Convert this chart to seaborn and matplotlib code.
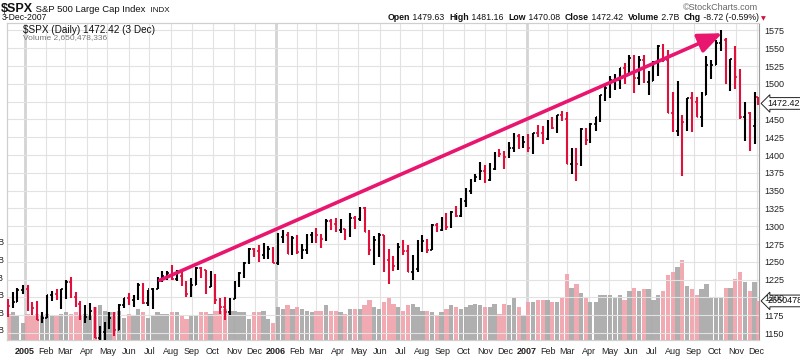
import matplotlib
matplotlib.use("Agg")
import matplotlib.pyplot as plt
import matplotlib.dates as mdates
import pandas as pd
import seaborn as sns

week_end = [
    "2004-12-10", "2004-12-17", "2004-12-23", "2004-12-31",
    "2005-01-07", "2005-01-14", "2005-01-21", "2005-01-28",
    "2005-02-04", "2005-02-11", "2005-02-18", "2005-02-25",
    "2005-03-04", "2005-03-11", "2005-03-18", "2005-03-24",
    "2005-04-01", "2005-04-08", "2005-04-15", "2005-04-22", "2005-04-29",
    "2005-05-06", "2005-05-13", "2005-05-20", "2005-05-27",
    "2005-06-03", "2005-06-10", "2005-06-17", "2005-06-24",
    "2005-07-01", "2005-07-08", "2005-07-15", "2005-07-22", "2005-07-29",
    "2005-08-05", "2005-08-12", "2005-08-19", "2005-08-26",
    "2005-09-02", "2005-09-09", "2005-09-16", "2005-09-23", "2005-09-30",
    "2005-10-07", "2005-10-14", "2005-10-21", "2005-10-28",
    "2005-11-04", "2005-11-11", "2005-11-18", "2005-11-25",
    "2005-12-02", "2005-12-09", "2005-12-16", "2005-12-23", "2005-12-30",
    "2006-01-06", "2006-01-13", "2006-01-20", "2006-01-27",
    "2006-02-03", "2006-02-10", "2006-02-17", "2006-02-24",
    "2006-03-03", "2006-03-10", "2006-03-17", "2006-03-24", "2006-03-31",
    "2006-04-07", "2006-04-13", "2006-04-21", "2006-04-28",
    "2006-05-05", "2006-05-12", "2006-05-19", "2006-05-26",
    "2006-06-02", "2006-06-09", "2006-06-16", "2006-06-23", "2006-06-30",
    "2006-07-07", "2006-07-14", "2006-07-21", "2006-07-28",
    "2006-08-04", "2006-08-11", "2006-08-18", "2006-08-25",
    "2006-09-01", "2006-09-08", "2006-09-15", "2006-09-22", "2006-09-29",
    "2006-10-06", "2006-10-13", "2006-10-20", "2006-10-27",
    "2006-11-03", "2006-11-10", "2006-11-17", "2006-11-24",
    "2006-12-01", "2006-12-08", "2006-12-15", "2006-12-22", "2006-12-29",
    "2007-01-05", "2007-01-12", "2007-01-19", "2007-01-26",
    "2007-02-02", "2007-02-09", "2007-02-16", "2007-02-23",
    "2007-03-02", "2007-03-09", "2007-03-16", "2007-03-23", "2007-03-30",
    "2007-04-05", "2007-04-13", "2007-04-20", "2007-04-27",
    "2007-05-04", "2007-05-11", "2007-05-18", "2007-05-25",
    "2007-06-01", "2007-06-08", "2007-06-15", "2007-06-22", "2007-06-29",
    "2007-07-06", "2007-07-13", "2007-07-20", "2007-07-27",
    "2007-08-03", "2007-08-10", "2007-08-17", "2007-08-24", "2007-08-31",
    "2007-09-07", "2007-09-14", "2007-09-21", "2007-09-28",
    "2007-10-05", "2007-10-12", "2007-10-19", "2007-10-26",
    "2007-11-02", "2007-11-09", "2007-11-16", "2007-11-23", "2007-11-30",
    "2007-12-03",
]
high = [
    1197.5, 1207.0, 1213.7, 1217.9,
    1217.8, 1193.2, 1195.3, 1179.4,
    1203.5, 1208.4, 1212.4, 1211.9,
    1224.8, 1229.1, 1207.1, 1194.8,
    1189.8, 1191.9, 1187.0, 1159.8, 1164.8,
    1178.9, 1178.9, 1191.1, 1198.8,
    1205.6, 1203.2, 1219.6, 1219.6,
    1210.9, 1212.7, 1229.2, 1236.6, 1237.8,
    1245.9, 1238.4, 1236.5, 1223.7,
    1227.6, 1243.1, 1242.6, 1237.9, 1237.8,
    1233.3, 1199.7, 1201.1, 1199.1,
    1222.5, 1235.7, 1249.6, 1268.8,
    1269.0, 1273.4, 1275.8, 1272.4, 1270.5,
    1290.8, 1294.9, 1291.9, 1286.4,
    1287.0, 1274.6, 1289.4, 1292.1,
    1297.6, 1289.0, 1310.8, 1310.3, 1310.9,
    1310.3, 1295.5, 1318.2, 1314.7,
    1326.7, 1326.6, 1294.8, 1285.6,
    1290.7, 1288.2, 1267.7, 1258.6, 1276.3,
    1280.4, 1273.3, 1260.2, 1280.2,
    1287.8, 1281.6, 1303.2, 1305.2,
    1312.7, 1318.0, 1322.0, 1328.5, 1340.3,
    1353.8, 1366.1, 1372.9, 1389.5,
    1386.6, 1388.1, 1403.8, 1407.9,
    1406.0, 1418.3, 1431.6, 1429.4, 1427.3,
    1429.4, 1431.2, 1441.6, 1440.7,
    1449.3, 1452.9, 1456.2, 1461.6,
    1459.8, 1410.2, 1410.1, 1437.7, 1438.1,
    1444.9, 1453.1, 1484.7, 1498.0,
    1510.3, 1513.8, 1522.8, 1529.4,
    1540.6, 1540.0, 1538.7, 1541.0, 1517.5,
    1531.9, 1555.1, 1555.9, 1548.0,
    1488.3, 1503.9, 1456.7, 1479.4, 1488.1,
    1481.5, 1488.0, 1538.7, 1533.7,
    1561.9, 1576.1, 1564.7, 1535.3,
    1552.8, 1520.5, 1474.1, 1461.0, 1488.9,
    1481.16,
]
low = [
    1173.1, 1185.3, 1193.0, 1204.9,
    1180.3, 1175.6, 1167.8, 1163.8,
    1171.4, 1194.6, 1196.0, 1184.2,
    1198.1, 1198.9, 1186.6, 1168.7,
    1163.7, 1168.2, 1142.6, 1136.2, 1139.9,
    1155.2, 1146.2, 1154.0, 1185.3,
    1188.7, 1187.0, 1196.9, 1190.5,
    1188.2, 1183.6, 1211.3, 1221.1, 1224.9,
    1224.5, 1223.0, 1216.0, 1201.1,
    1201.1, 1218.0, 1227.5, 1205.4, 1214.6,
    1191.2, 1176.3, 1168.2, 1175.4,
    1197.4, 1214.7, 1227.3, 1246.6,
    1256.3, 1250.0, 1253.9, 1254.6, 1248.3,
    1245.7, 1277.1, 1261.0, 1259.4,
    1261.0, 1253.6, 1261.0, 1276.9,
    1276.4, 1269.8, 1279.3, 1295.3, 1291.8,
    1291.1, 1280.7, 1284.4, 1296.0,
    1308.0, 1291.2, 1259.6, 1245.3,
    1256.3, 1235.2, 1219.3, 1236.7, 1238.6,
    1260.0, 1236.2, 1224.5, 1236.4,
    1263.5, 1261.8, 1266.7, 1292.0,
    1292.9, 1294.9, 1297.0, 1312.7, 1313.4,
    1326.9, 1345.0, 1362.0, 1364.6,
    1360.6, 1363.8, 1378.4, 1397.4,
    1379.7, 1395.7, 1403.9, 1408.9, 1410.5,
    1403.9, 1401.4, 1425.7, 1416.0,
    1420.5, 1436.1, 1431.1, 1448.1,
    1386.9, 1373.0, 1364.0, 1384.4, 1413.9,
    1416.4, 1433.8, 1446.6, 1475.3,
    1480.5, 1491.4, 1493.1, 1500.2,
    1513.2, 1487.6, 1498.6, 1500.8, 1484.2,
    1503.4, 1510.5, 1530.6, 1459.0,
    1432.8, 1427.4, 1370.6, 1433.8, 1432.0,
    1453.5, 1439.3, 1484.2, 1507.1,
    1526.8, 1546.7, 1500.3, 1489.6,
    1492.5, 1450.0, 1420.2, 1406.1, 1415.6,
    1470.08,
]
close = [
    1188.0, 1194.2, 1210.1, 1211.9,
    1186.2, 1184.5, 1167.9, 1171.4,
    1203.0, 1205.3, 1201.6, 1211.4,
    1222.1, 1200.1, 1190.2, 1171.4,
    1172.9, 1181.2, 1142.6, 1152.1, 1156.9,
    1171.4, 1154.1, 1189.3, 1198.8,
    1196.0, 1198.1, 1217.0, 1191.6,
    1211.9, 1211.9, 1227.9, 1229.4, 1234.2,
    1226.4, 1230.4, 1219.7, 1205.1,
    1218.0, 1241.5, 1237.9, 1215.3, 1228.8,
    1195.9, 1186.6, 1179.6, 1198.4,
    1220.1, 1234.7, 1248.3, 1268.2,
    1265.1, 1259.4, 1267.3, 1268.7, 1248.3,
    1285.5, 1287.6, 1261.5, 1283.7,
    1264.0, 1266.9, 1287.2, 1289.4,
    1287.2, 1281.4, 1307.3, 1302.9, 1294.8,
    1295.5, 1289.1, 1311.3, 1310.6,
    1325.8, 1291.2, 1267.0, 1280.2,
    1288.2, 1252.3, 1251.5, 1244.5, 1270.2,
    1265.5, 1236.2, 1240.3, 1278.6,
    1279.4, 1266.7, 1302.3, 1295.1,
    1311.0, 1298.9, 1319.7, 1314.8, 1335.9,
    1349.6, 1365.6, 1368.6, 1377.3,
    1364.3, 1380.9, 1401.2, 1401.0,
    1396.7, 1409.8, 1427.1, 1410.8, 1418.3,
    1409.7, 1430.7, 1430.5, 1422.2,
    1448.4, 1438.1, 1455.5, 1451.2,
    1387.2, 1402.8, 1387.0, 1436.1, 1420.9,
    1443.8, 1452.9, 1484.4, 1494.1,
    1505.6, 1505.9, 1522.8, 1515.7,
    1536.3, 1507.7, 1532.9, 1502.6, 1503.4,
    1530.4, 1552.5, 1534.1, 1459.0,
    1433.1, 1453.6, 1445.9, 1479.4, 1474.0,
    1453.6, 1484.3, 1525.8, 1526.8,
    1557.6, 1561.8, 1500.6, 1535.3,
    1509.7, 1453.7, 1458.7, 1440.7, 1481.1,
    1472.42,
]
# average daily volume, billions of shares
volume_b = [
    1.9, 2.0, 1.8, 1.4,
    1.9, 1.8, 1.9, 1.8,
    1.9, 1.8, 1.8, 1.9,
    2.0, 1.9, 2.0, 1.8,
    1.9, 1.8, 2.3, 2.4, 2.1,
    2.0, 2.0, 2.1, 1.7,
    1.9, 1.8, 2.2, 2.0,
    1.7, 1.8, 2.0, 1.9, 1.9,
    2.0, 2.0, 1.8, 1.6,
    1.8, 1.8, 2.0, 2.0, 1.9,
    2.1, 2.1, 2.2, 2.1,
    2.1, 2.0, 2.0, 1.6,
    2.0, 2.0, 2.1, 1.6, 1.4,
    2.3, 2.2, 2.4, 2.2,
    2.3, 2.2, 2.1, 2.0,
    2.1, 2.1, 2.4, 2.1, 2.1,
    2.0, 1.9, 2.2, 2.2,
    2.2, 2.4, 2.7, 2.3,
    2.2, 2.6, 2.8, 2.5, 2.3,
    2.1, 2.4, 2.5, 2.3,
    2.1, 2.1, 2.0, 1.8,
    2.0, 2.2, 2.4, 2.3, 2.2,
    2.3, 2.4, 2.5, 2.4,
    2.3, 2.3, 2.5, 1.9,
    2.5, 2.4, 2.8, 2.3, 1.8,
    2.6, 2.6, 2.7, 2.7,
    2.7, 2.6, 2.6, 2.8,
    4.2, 3.4, 3.6, 3.1, 2.8,
    2.6, 2.6, 3.0, 3.0,
    3.0, 2.9, 3.0, 2.7,
    3.2, 3.4, 3.2, 3.3, 3.3,
    2.7, 3.0, 3.2, 4.1,
    4.3, 4.6, 5.0, 3.5, 3.3,
    3.0, 3.3, 3.6, 2.8,
    2.9, 2.9, 3.4, 3.4,
    3.9, 4.3, 3.7, 3.2, 3.7,
    2.65,
]
first_open = 1191.2

price_ticks = [1150, 1175, 1200, 1225, 1250, 1275, 1300, 1325, 1350, 1375,
               1400, 1425, 1450, 1475, 1500, 1525, 1550, 1575]
volume_ticks = [1, 2, 3, 4, 5, 6]
month_abbr = ["Jan", "Feb", "Mar", "Apr", "May", "Jun",
              "Jul", "Aug", "Sep", "Oct", "Nov", "Dec"]

# trend arrow drawn on the chart
arrow_start = ("2005-07-16", 1224)
arrow_end = ("2007-10-12", 1571)

last_close = 1472.42
last_volume = "2650478336"

UP, DOWN = "#000000", "#e0103c"
VOL_UP, VOL_DOWN = "#a6a6a6", "#f0a0aa"
PINK = "#e8166f"
GRID = "#e2e2e2"

sns.set_theme(style="white")
plt.rcParams["font.family"] = ["Liberation Sans", "DejaVu Sans"]

fig = plt.figure(figsize=(8, 3.63), dpi=100)
fig.patch.set_facecolor("white")
ax = fig.add_axes([7 / 800, 23 / 363, 752 / 800, 317 / 363])
ax_p = ax.twinx()

dates = pd.to_datetime(week_end)
# centre each weekly bar in the middle of its trading week
mid = [d - pd.Timedelta(days=min(2, d.weekday())) for d in dates]
xs = mdates.date2num(mid)
opens = [first_open] + close[:-1]
up = [c >= o for c, o in zip(close, opens)]
colors = [UP if u else DOWN for u in up]
vcolors = [VOL_UP if u else VOL_DOWN for u in up]

# volume (back layer)
ax.bar(xs, volume_b, width=6.2, color=vcolors, alpha=0.9, linewidth=0, zorder=2)
ax.set_ylim(0.43, 18.44)
ax.set_yticks(volume_ticks)
ax.set_yticklabels([f"{v}B" for v in volume_ticks])
ax.tick_params(axis="y", left=True, length=0, pad=2, labelsize=6.5, labelcolor="#222222")

# price OHLC bars
ax_p.vlines(xs, low, high, colors=colors, lw=1.5, zorder=3)
ax_p.hlines(opens, xs - 2.2, xs, colors=colors, lw=1.2, zorder=3)
ax_p.hlines(close, xs, xs + 2.2, colors=colors, lw=1.2, zorder=3)
ax_p.set_ylim(1140.2, 1585.4)
ax_p.set_yticks(price_ticks)
ax_p.tick_params(axis="y", right=True, length=0, pad=4, labelsize=6.5, labelcolor="#222222")
ax_p.grid(axis="y", color=GRID, lw=0.8, zorder=0)
ax_p.set_axisbelow(True)

# month axis
month_starts = pd.date_range("2005-01-01", "2007-12-01", freq="MS")
ax.set_xlim(mdates.date2num(pd.Timestamp("2004-12-06")),
            mdates.date2num(pd.Timestamp("2007-12-04 12:00")))
ax.set_xticks(mdates.date2num(month_starts))
ax.set_xticklabels([str(m.year) if m.month == 1 else month_abbr[m.month - 1]
                    for m in month_starts])
for lab, m in zip(ax.get_xticklabels(), month_starts):
    if m.month == 1:
        lab.set_fontweight("bold")
ax.tick_params(axis="x", bottom=True, length=0, pad=5, labelsize=6.5, labelcolor="#222222")
ax.grid(axis="x", color=GRID, lw=0.8, zorder=0)
for m in month_starts:
    if m.month == 1:
        ax.axvline(mdates.date2num(m), color="#d4d4d4", lw=2.0, zorder=1)
ax.set_axisbelow(True)

for a in (ax, ax_p):
    for side in ("left", "bottom", "top"):
        a.spines[side].set_color("#cfcfcf")
        a.spines[side].set_linewidth(0.8)
ax_p.spines["right"].set_color("#9a9a9a")
ax_p.spines["right"].set_linestyle((0, (1, 1)))
ax_p.spines["right"].set_linewidth(0.8)
ax.spines["right"].set_visible(False)

# trend arrow
ax_p.annotate("", xy=(mdates.date2num(pd.Timestamp(arrow_end[0])), arrow_end[1]),
              xytext=(mdates.date2num(pd.Timestamp(arrow_start[0])), arrow_start[1]),
              arrowprops=dict(arrowstyle="-|>,head_length=1.2,head_width=0.5",
                              color=PINK, lw=2.6, shrinkA=0, shrinkB=0,
                              mutation_scale=12),
              zorder=5)

# last value markers at the right axis
ax_p.annotate(f"{last_close:.2f}", xy=(1, last_close), xycoords=("axes fraction", "data"),
              xytext=(6, 0), textcoords="offset points", va="center", ha="left",
              fontsize=6.5, color="#111111", annotation_clip=False, zorder=6,
              bbox=dict(boxstyle="larrow,pad=0.15", fc="white", ec="#222222", lw=0.7))
ax.annotate(last_volume, xy=(1, 2.65), xycoords=("axes fraction", "data"),
            xytext=(6, 0), textcoords="offset points", va="center", ha="left",
            fontsize=6.5, color="#111111", annotation_clip=False, zorder=6,
            bbox=dict(boxstyle="larrow,pad=0.15", fc="white", ec="#222222", lw=0.7))

# in-chart legend
ax_p.text(16 / 752, 1 - 7 / 317, "$SPX (Daily) 1472.42 (3 Dec)", transform=ax_p.transAxes,
          fontsize=7.2, color="#111111", va="center", ha="left", zorder=6)
ax_p.text(16 / 752, 1 - 15 / 317, "Volume 2,650,478,336", transform=ax_p.transAxes,
          fontsize=6, color="#777777", va="center", ha="left", zorder=6)


# header
def fx(px):
    return px / 800


def fy(py):
    return 1 - py / 363


title = fig.text(fx(1), fy(11.5), "$SPX", fontsize=9, fontweight="bold", color="#111111",
                 va="baseline")
t2 = ax.annotate(" S&P 500 Large Cap Index", xy=(1, 0), xycoords=title, xytext=(0, 0),
                 textcoords="offset points", fontsize=6.8, color="#111111", va="bottom",
                 annotation_clip=False)
ax.annotate("  INDX", xy=(1, 0), xycoords=t2, xytext=(0, 0), textcoords="offset points",
            fontsize=5.8, color="#111111", va="bottom", annotation_clip=False)
fig.text(fx(2), fy(20.5), "3-Dec-2007", fontsize=6.2, color="#111111", va="baseline")
fig.text(fx(758), fy(10), "\u00a9StockCharts.com", fontsize=6.5, color="#666666",
         va="baseline", ha="right")

pieces = [("Open", True), (" 1479.63  ", False), ("High", True), (" 1481.16  ", False),
          ("Low", True), (" 1470.08  ", False), ("Close", True), (" 1472.42  ", False),
          ("Volume", True), (" 2.7B  ", False), ("Chg", True), (" -8.72 (-0.59%) ", False)]
prev = fig.text(fx(388), fy(20.5), pieces[0][0], fontsize=6.3, fontweight="bold",
                color="#111111", va="baseline")
for txt, bold in pieces[1:]:
    prev = ax.annotate(txt, xy=(1, 0), xycoords=prev, xytext=(0, 0),
                       textcoords="offset points", fontsize=6.3,
                       fontweight="bold" if bold else "normal", color="#111111",
                       va="bottom", annotation_clip=False)
ax.annotate("\u25bc", xy=(1, 0.1), xycoords=prev, xytext=(0, 0), textcoords="offset points",
            fontsize=4.5, color="#d0103a", va="bottom", annotation_clip=False,
            family=["DejaVu Sans"])

fig.savefig("out.png", dpi=100, facecolor="white")
